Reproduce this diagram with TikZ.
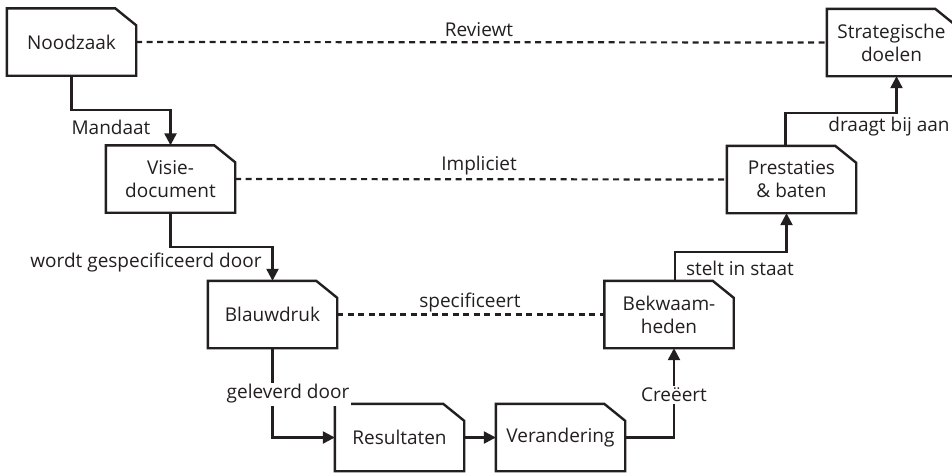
\documentclass[tikz,border=0pt]{standalone}
\usepackage{fontspec}
\setmainfont{Open Sans}
\usetikzlibrary{arrows.meta,calc}
\definecolor{ink}{HTML}{231F20}

\tikzset{
  docnode/.style={minimum width=129pt, minimum height=67pt, inner sep=0pt,
    align=center, text=ink, font=\fontsize{19}{23}\selectfont},
  boxline/.style={draw=ink, line width=2.4pt, line join=miter, fill=white},
  conn/.style={draw=ink, line width=2.4pt, -{Triangle[length=12pt,width=12pt]}},
  rel/.style={draw=ink, line width=2.2pt, dash pattern=on 6pt off 4.5pt},
  lbl/.style={text=ink, font=\fontsize{19}{23}\selectfont, inner sep=1pt},
  onlbl/.style={lbl, fill=white, inner sep=2pt}
}

% document outline with a clipped upper-right corner
\newcommand\docoutline[1]{%
  \draw[boxline] (#1.south west) -- (#1.north west)
    -- ([xshift=-21pt]#1.north east) -- ([yshift=-17pt]#1.north east)
    -- (#1.south east) -- cycle;}

\begin{document}
\begin{tikzpicture}[x=1pt, y=-1pt]
\useasboundingbox (0,0) rectangle (952,472);
\clip (0,0) rectangle (952,472);

% box placeholders
\node[docnode] (nood)  at (71.5,42)   {};
\node[docnode] (strat) at (891.5,42.5) {};
\node[docnode] (visie) at (170.5,179) {};
\node[docnode] (pres)  at (791.5,179.5) {};
\node[docnode] (blau)  at (272.5,314.5) {};
\node[docnode] (bek)   at (669,314.5) {};
\node[docnode] (res)   at (399.5,437.5) {};
\node[docnode] (ver)   at (560.5,437.5) {};

% dashed relations between the two branches
\draw[rel] (nood.east) -- (strat.west);
\draw[rel] (visie.east) -- (pres.west);
\draw[rel] (blau.east) -- (bek.west);
\node[lbl] (lrev) at (479,30)  {Reviewt};
\node[lbl] (limp) at (479,166) {Impliciet};
\node[lbl] (lspe) at (470,303) {specificeert};

% connectors
\draw[conn] (nood.south) -- ++(0,34) -| (visie.north);
\draw[conn] (visie.south) -- ++(0,34) -| (blau.north);
\draw[conn] (blau.south) |- (res.west);
\draw[conn] (res.east) -- (ver.west);
\draw[conn] (ver.east) -| ([xshift=5pt]bek.south);
\draw[conn] ([xshift=6pt]bek.north) -- ++(0,-29) -| ([xshift=-5pt]pres.south);
\draw[conn] ([xshift=-6pt]pres.north) -- ++(0,-33) -| ([xshift=5pt]strat.south);

% boxes drawn over connector ends
\foreach \n in {nood,strat,visie,pres,blau,bek,res,ver} {\docoutline{\n}}

% box texts
\node[docnode] at (nood)  {Noodzaak};
\node[docnode] at (strat) {Strategische\\doelen};
\node[docnode] at (visie) {Visie-\\document};
\node[docnode] at (pres)  {Prestaties\\\& baten};
\node[docnode] at (blau)  {Blauwdruk};
\node[docnode] at (bek)   {Bekwaam-\\heden};
\node[docnode] at (res)   {Resultaten};
\node[docnode] at (ver)   {Verandering};

% connector labels
\node[lbl] (lman) at (111,127)  {Mandaat};
\node[lbl] (lwgd) at (146,263)  {wordt gespecificeerd door};
\node[onlbl] (lgel) at (288,394) {geleverd door};
\node[onlbl] (lcre) at (674,395) {Creëert};
\node[lbl] (lsis) at (740,268)  {stelt in staat};
\node[lbl] (ldba) at (889,127)  {draagt bij aan};
\end{tikzpicture}
\end{document}
